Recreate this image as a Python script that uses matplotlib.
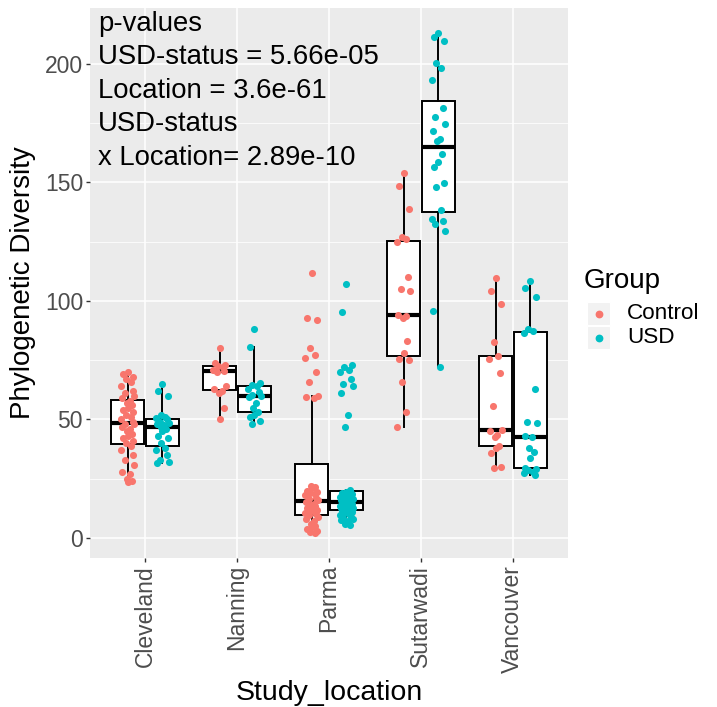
import numpy as np
import matplotlib.pyplot as plt
from matplotlib.patches import Rectangle
from matplotlib.lines import Line2D

plt.rcParams['font.family'] = ['Liberation Sans', 'DejaVu Sans']

# ---- data ----
locations = ['Cleveland', 'Nanning', 'Parma', 'Sutarwadi', 'Vancouver']
groups = ['Control', 'USD']
group_colors = ['#F8766D', '#00BFC4']

cleveland_control = [70, 69, 68, 67, 66, 64, 62, 61, 60, 59, 58, 57, 56, 55, 54, 53, 52, 51, 50, 49,
                     48, 48, 47, 46, 45, 44, 43, 42, 41, 40, 39, 37, 35, 33, 31, 28, 27, 25, 24, 23.5]
cleveland_usd = [65, 62, 60, 52, 51, 50.5, 50, 49, 48.5, 48, 47.5, 47, 46, 45, 43, 42, 40, 38, 37,
                 35, 33, 32, 31.5]
nanning_control = [80, 74, 73, 72.5, 72, 71, 70.5, 70, 64, 63, 62, 61, 55, 50]
nanning_usd = [88, 80.5, 65.5, 64.5, 64, 63, 61.5, 60.5, 60, 59.5, 57, 55, 53, 52, 51, 49.5, 48]
parma_control = [112, 93, 92, 80, 77, 76, 70, 66, 60, 59.5, 59,
                 22, 21.5, 21, 20, 19.5, 19, 18.5, 18, 17, 16.5, 16, 15, 14.5, 14, 13.5, 13, 12.5,
                 12, 11.5, 11, 10.5, 10, 9.5, 9, 8, 7, 6, 5, 4.5, 4, 3, 2.5, 2]
parma_usd = [107, 95.5, 73, 72, 71, 70, 67, 65, 64, 61, 52, 47,
             20.3, 19.5, 19, 18.5, 18.2, 18, 17.5, 17.2, 17, 16.5, 16.2, 16, 15.8, 15.5, 15.2, 15,
             14.5, 14.2, 14, 13.5, 13.2, 13, 12.8, 12.5, 12.2, 12, 11.8, 11.5, 11.2, 11, 10.5, 10,
             9.5, 9, 8.5, 8, 7.5, 7, 6, 5.5]
sutarwadi_control = [154, 148.5, 139, 127, 126, 125, 110, 105, 104, 94, 93.5, 93, 83, 78, 75.5,
                     75, 66, 53, 47]
sutarwadi_usd = [213.2, 211.3, 209.8, 200.3, 198.2, 193.2, 181.6, 177.8, 174.5, 171.5, 168.2, 167.6,
                 161.9, 158.8, 156.7, 149.6, 148.2, 138.4, 134.5, 133.8, 132.5, 129.7, 95.9, 72]
vancouver_control = [109.6, 104.3, 98.7, 82.8, 76.8, 75.4, 69.8, 55.8, 45.6, 45, 43.5, 42.5, 38.9,
                     38.1, 36, 29.8, 29.7]
vancouver_usd = [108.5, 105.4, 101.6, 88, 87.5, 86.5, 62.7, 48.8, 48.4, 43, 42.5, 38, 36.4, 33.6,
                 29.5, 29.2, 28.5, 28, 27.5, 26.6]

control_values = [cleveland_control, nanning_control, parma_control, sutarwadi_control, vancouver_control]
usd_values = [cleveland_usd, nanning_usd, parma_usd, sutarwadi_usd, vancouver_usd]

yticks = [0, 50, 100, 150, 200]

# fixed horizontal jitter pattern (style only)
jitter = [0.00, -0.05, 0.06, -0.02, 0.03, -0.07, 0.05, -0.03, 0.07, -0.06, 0.02, -0.01, 0.04]

W, H = 717, 707
fig = plt.figure(figsize=(W / 100, H / 100), dpi=100)
ax = fig.add_axes([90 / W, (H - 558) / H, 478 / W, 550 / H])
ax.set_facecolor('#EBEBEB')

for i in range(len(locations)):
    for j, vals in enumerate([control_values[i], usd_values[i]]):
        pos = i + 1 + (-0.1875 if j == 0 else 0.1875)
        ax.boxplot(vals, positions=[pos], widths=0.36, showfliers=False, showcaps=False,
                   patch_artist=True, manage_ticks=False,
                   boxprops=dict(facecolor='white', edgecolor='black', linewidth=1.4),
                   whiskerprops=dict(color='black', linewidth=1.4),
                   medianprops=dict(color='black', linewidth=3))
        xs = [pos + jitter[k % len(jitter)] for k in range(len(vals))]
        ax.scatter(xs, vals, s=26, color=group_colors[j], linewidths=0, zorder=3)

ax.set_xlim(0.4, 5.6)
ax.set_ylim(-8.44, 223.6)
ax.set_xticks(range(1, len(locations) + 1))
ax.set_xticklabels(locations, rotation=90)
ax.set_yticks(yticks)
ax.set_yticks([25, 75, 125, 175], minor=True)
ax.grid(which='major', color='white', linewidth=1.1)
ax.grid(which='minor', axis='y', color='white', linewidth=0.55)
ax.set_axisbelow(True)
for s in ax.spines.values():
    s.set_visible(False)
ax.tick_params(which='major', length=3, width=1.0, color='#333333', labelcolor='#4D4D4D',
               labelsize=16.5, pad=2)
ax.tick_params(which='minor', length=0)
ax.set_xlabel('Study_location', fontsize=20.5, labelpad=5)
ax.set_ylabel('Phylogenetic Diversity', fontsize=20, labelpad=6)

fig.text(98 / W, 1 - 11 / H,
         'p-values\nUSD-status = 5.66e-05\nLocation = 3.6e-61\nUSD-status\nx Location= 2.89e-10',
         fontsize=19.8, va='top', ha='left', linespacing=1.37)

# legend
fig.text(584 / W, 1 - 288 / H, 'Group', fontsize=20, va='baseline', ha='left')
for j, g in enumerate(groups):
    y0 = 302 + j * 24
    fig.add_artist(Rectangle((587 / W, 1 - (y0 + 23) / H), 23 / W, 23 / H,
                             transform=fig.transFigure, facecolor='#F2F2F2', edgecolor='white',
                             linewidth=0.8))
    fig.add_artist(Line2D([598.5 / W], [1 - (y0 + 11.5) / H], transform=fig.transFigure,
                          marker='o', markersize=4.6, color=group_colors[j], linestyle='none'))
    fig.text(627 / W, 1 - (y0 + 11.5) / H, g, fontsize=16.2, va='center', ha='left')

fig.savefig('out.png', dpi=100)
